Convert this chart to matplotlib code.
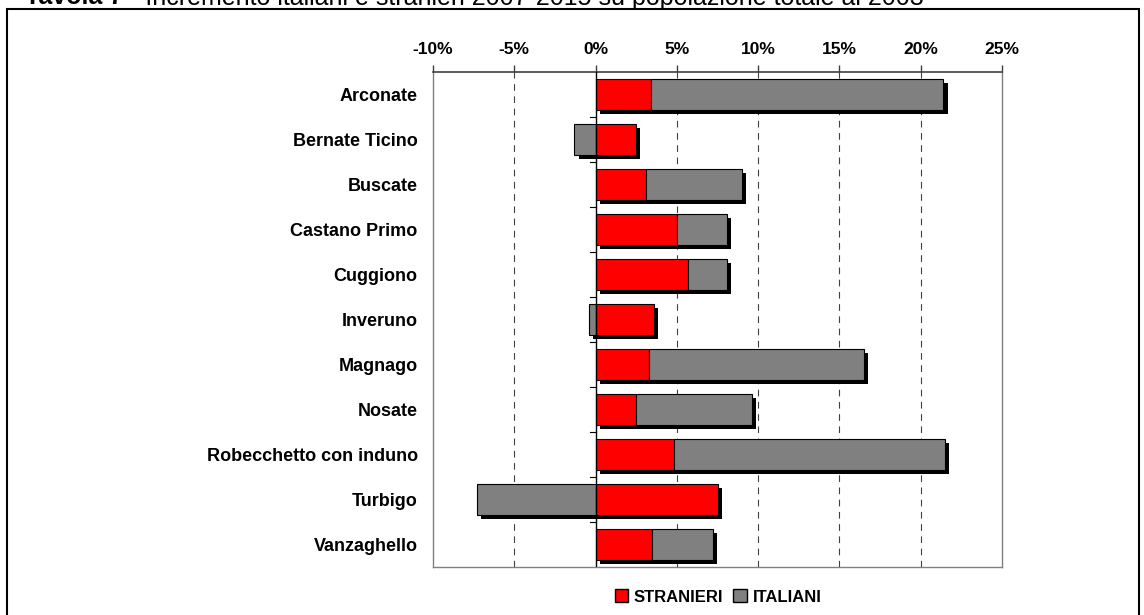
import matplotlib
matplotlib.use("Agg")
import matplotlib.pyplot as plt
import matplotlib.patheffects as pe
from matplotlib.patches import Rectangle, Patch
from matplotlib.ticker import FuncFormatter, MultipleLocator
import numpy as np

plt.rcParams['font.family'] = ['Liberation Sans', 'DejaVu Sans']

comuni = ["Arconate", "Bernate Ticino", "Buscate", "Castano Primo", "Cuggiono",
          "Inveruno", "Magnago", "Nosate", "Robecchetto con induno", "Turbigo",
          "Vanzaghello"]
stranieri = [3.4, 2.5, 3.1, 5.0, 5.7, 3.6, 3.3, 2.5, 4.8, 7.5, 3.5]
italiani = [18.0, -1.3, 5.9, 3.1, 2.4, -0.4, 13.2, 7.1, 16.7, -7.3, 3.7]

red = "#ff0000"
gray = "#808080"

fig = plt.figure(figsize=(11.44, 6.15), dpi=100)
ax = fig.add_axes([433 / 1144, 1 - 567 / 615, (1002 - 433) / 1144, (567 - 72) / 615])

y = np.arange(len(comuni))
s = np.array(stranieri)
it = np.array(italiani)
h = 0.7
shadow = [pe.SimplePatchShadow(offset=(3, -3), shadow_rgbFace="black", alpha=1.0), pe.Normal()]

neg = it < 0
# negative italiani first so their shadow sits under the red bars
b1 = ax.barh(y[neg], it[neg], height=h, color=gray, edgecolor="black", linewidth=0.8, zorder=3)
b2 = ax.barh(y, s, height=h, color=red, edgecolor="black", linewidth=0.8, zorder=3)
b3 = ax.barh(y[~neg], it[~neg], left=s[~neg], height=h, color=gray, edgecolor="black",
             linewidth=0.8, zorder=3)
for bars in (b1, b2, b3):
    for p in bars:
        p.set_path_effects(shadow)

ax.set_xlim(-10, 25)
ax.set_ylim(len(comuni) - 0.5, -0.5)

ax.xaxis.tick_top()
ax.xaxis.set_major_locator(MultipleLocator(5))
ax.xaxis.set_major_formatter(FuncFormatter(lambda v, _: f"{v:.0f}%"))
ax.tick_params(axis="x", direction="out", length=5, width=1, color="#404040", pad=6,
               labelsize=12.5)
for lab in ax.get_xticklabels():
    lab.set_fontweight("bold")

ax.set_yticks(y)
ax.set_yticklabels(comuni, fontsize=13, fontweight="bold")
ax.tick_params(axis="y", length=0, pad=11)

for v in [-5, 5, 10, 15, 20]:
    ax.axvline(v, color="#404040", linestyle=(0, (6, 5)), linewidth=0.8, zorder=1)

# zero axis with small ticks between categories
ax.axvline(0, color="black", linewidth=1, zorder=4)
for b in np.arange(0.5, len(comuni) - 1, 1.0):
    ax.plot([-0.35, 0], [b, b], color="black", linewidth=0.8, zorder=4, clip_on=False)

ax.spines["top"].set_color("#404040")
ax.spines["top"].set_linewidth(1.2)
for sp in ("left", "right", "bottom"):
    ax.spines[sp].set_color("#808080")
    ax.spines[sp].set_linewidth(1)

handles = [Patch(facecolor=red, edgecolor="black", label="STRANIERI"),
           Patch(facecolor=gray, edgecolor="black", label="ITALIANI")]
leg = fig.legend(handles=handles, loc="center", bbox_to_anchor=(718 / 1144, 1 - 597 / 615),
                 ncol=2, frameon=False, handlelength=0.8, handleheight=0.8,
                 handletextpad=0.35, columnspacing=0.6, prop={"weight": "bold", "size": 12})

# outer frame
fig.patches.append(Rectangle((7 / 1144, -0.05), (1139 - 7) / 1144, 1.05 - 9 / 615,
                             transform=fig.transFigure, fill=False, edgecolor="black",
                             linewidth=1.5))

# title, only its lower part shows above the frame
t1 = fig.text(25 / 1144, 1 - 4.5 / 615, "Tavola 7", fontsize=18, fontweight="bold",
              va="baseline")
fig.canvas.draw()
x_end = t1.get_window_extent().x1 / fig.bbox.width
fig.text(x_end, 1 - 4.5 / 615,
         " - Incremento italiani e stranieri 2007-2015 su popolazione totale al 2003",
         fontsize=18, va="baseline")

fig.savefig("out.png", dpi=100)
